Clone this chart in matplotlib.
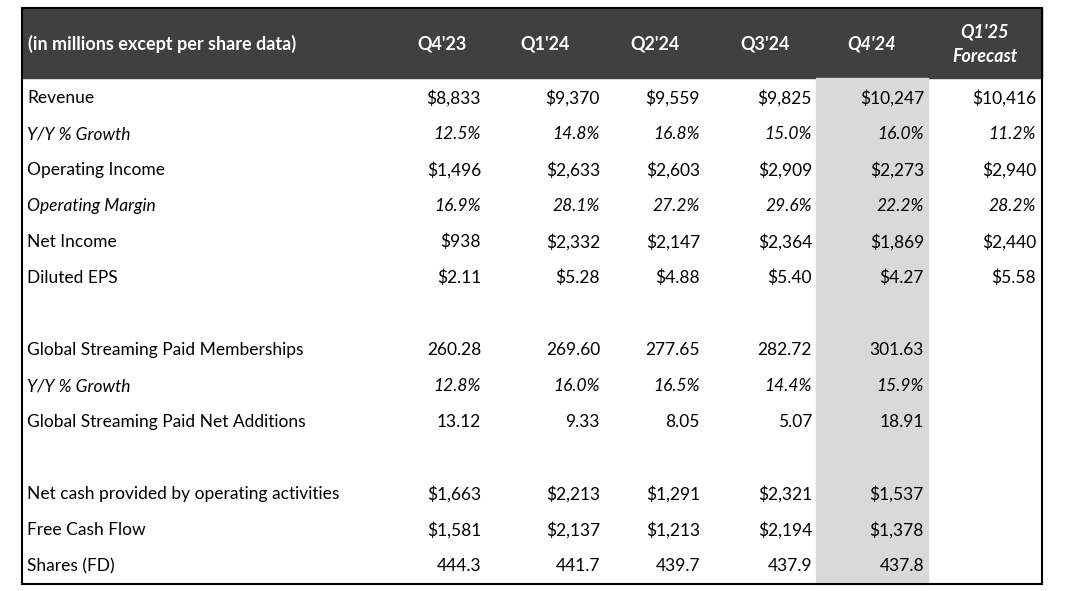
import matplotlib.pyplot as plt
from matplotlib.patches import Rectangle

plt.rcParams["font.family"] = ["Lato", "DejaVu Sans"]

columns = ["Q4'23", "Q1'24", "Q2'24", "Q3'24", "Q4'24", "Q1'25\nForecast"]
labels = ["Revenue", "Y/Y % Growth", "Operating Income", "Operating Margin",
          "Net Income", "Diluted EPS", "",
          "Global Streaming Paid Memberships", "Y/Y % Growth",
          "Global Streaming Paid Net Additions", "",
          "Net cash provided by operating activities", "Free Cash Flow", "Shares (FD)"]
italic_rows = {1, 3, 8}
values = [
    ["$8,833", "$9,370", "$9,559", "$9,825", "$10,247", "$10,416"],
    ["12.5%", "14.8%", "16.8%", "15.0%", "16.0%", "11.2%"],
    ["$1,496", "$2,633", "$2,603", "$2,909", "$2,273", "$2,940"],
    ["16.9%", "28.1%", "27.2%", "29.6%", "22.2%", "28.2%"],
    ["$938", "$2,332", "$2,147", "$2,364", "$1,869", "$2,440"],
    ["$2.11", "$5.28", "$4.88", "$5.40", "$4.27", "$5.58"],
    [""] * 6,
    ["260.28", "269.60", "277.65", "282.72", "301.63", ""],
    ["12.8%", "16.0%", "16.5%", "14.4%", "15.9%", ""],
    ["13.12", "9.33", "8.05", "5.07", "18.91", ""],
    [""] * 6,
    ["$1,663", "$2,213", "$1,291", "$2,321", "$1,537", ""],
    ["$1,581", "$2,137", "$1,213", "$2,194", "$1,378", ""],
    ["444.3", "441.7", "439.7", "437.9", "437.8", ""],
]

fig = plt.figure(figsize=(10.71, 5.91), dpi=100)
ax = fig.add_axes([0, 0, 1, 1])
ax.set_xlim(0, 1071)
ax.set_ylim(591, 0)
ax.axis("off")

# layout (pixels)
left, right, top, bottom = 22, 1042, 8, 584
header_h = 70
col_right = [481, 600, 700, 812, 924, 1036]
col_center = [442, 545, 655, 765, 872, 985]
row_y0, row_step = 98, 36

ax.add_patch(Rectangle((left, top), right - left, header_h, color="#404040", zorder=1))
ax.add_patch(Rectangle((816, top + header_h), 112, bottom - top - header_h,
                       color="#d9d9d9", zorder=1))
ax.add_patch(Rectangle((left, top), right - left, bottom - top, fill=False,
                       edgecolor="black", lw=1.5, zorder=3))

ax.text(28, 44, "(in millions except per share data)", color="white",
        fontsize=13, fontweight="bold", va="center", ha="left", zorder=2)
for i, c in enumerate(columns):
    style = "italic" if i == 4 or i == 5 else "normal"
    ax.text(col_center[i], 44, c, color="white", fontsize=13, fontweight="bold",
            style=style, va="center", ha="center", linespacing=1.5, zorder=2)

for r, lab in enumerate(labels):
    y = row_y0 + r * row_step
    st = "italic" if r in italic_rows else "normal"
    ax.text(27, y, lab, fontsize=12.5, style=st, va="center", ha="left", zorder=2)
    for i, v in enumerate(values[r]):
        ax.text(col_right[i], y, v, fontsize=12.5, style=st, va="center",
                ha="right", zorder=2)

fig.savefig("out.png", dpi=100)
